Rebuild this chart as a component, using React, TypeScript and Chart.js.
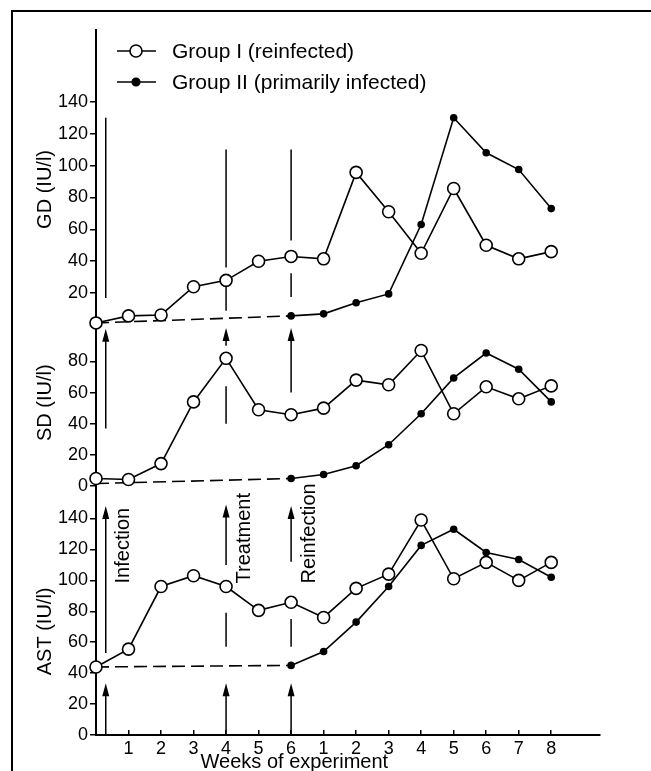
import React, { useEffect, useRef } from 'react';
import { Chart, registerables } from 'chart.js';

Chart.register(...registerables);

// ---- data ----
const weekIndex = [0, 1, 2, 3, 4, 5, 6, 7, 8, 9, 10, 11, 12, 13, 14];
const weekTickValues = [1, 2, 3, 4, 5, 6, 7, 8, 9, 10, 11, 12, 13, 14];
const weekTickLabels = ['1', '2', '3', '4', '5', '6', '1', '2', '3', '4', '5', '6', '7', '8'];

const gdGroupI = [1.3, 5.7, 6.3, 24, 28, 40, 43, 41.5, 95.7, 71, 45, 85.6, 50, 41.5, 46];
const gdGroupII = [1.3, null, null, null, null, null, 5.7, 7, 14, 19.5, 63, 130, 108, 97.5, 73];
const sdGroupI = [4.8, 4.2, 14.4, 54, 82, 49, 45.8, 50, 68, 65, 87, 46.4, 63.7, 56, 64.3];
const sdGroupII = [1.6, null, null, null, null, null, 4.8, 7.4, 13, 26.5, 46.4, 69.4, 85.4, 75, 54];
const astGroupI = [44, 55.5, 96, 103, 96, 80.6, 85.8, 76, 94.8, 104, 139, 101, 111.6, 100, 111.6];
const astGroupII = [44, null, null, null, null, null, 45, 54, 73, 96, 122.6, 133, 118, 113.5, 102];

const gdTicks = [20, 40, 60, 80, 100, 120, 140];
const sdTicks = [0, 20, 40, 60, 80];
const astTicks = [0, 20, 40, 60, 80, 100, 120, 140];

const legendLabels = ['Group I (reinfected)', 'Group II (primarily infected)'];
const axisTitles = ['GD (IU/l)', 'SD (IU/l)', 'AST (IU/l)'];
const axisTitleAnchors = [85, 53.5, 67];
const xTitle = 'Weeks of experiment';
const xTitleAnchor = 6.1;

const eventWeeks = [0.3, 4, 6];
const eventNames = ['Infection', 'Treatment', 'Reinfection'];
const eventNameAnchor = 98; // AST value where labels start
// per event: [fromValue, toValue, arrowHead]
const gdEventMarks = [[[17, 130, 0]], [[36, 110, 0], [9, 25, 0]], [[53, 110, 0], [17.5, 32.5, 0]]];
const sdEventMarks = [[[37, 101, 1]], [[90, 101.5, 1], [40, 64, 0]], [[60, 101.5, 1]]];
const astEventMarks = [
  [[53, 148, 1], [0, 33.5, 1]],
  [[110, 149, 1], [57, 79, 0], [0, 33.5, 1]],
  [[112, 148, 1], [57, 75, 0], [0, 33.5, 1]],
];

const FONT = '"Liberation Sans", Arial, Helvetica, sans-serif';

const toPoints = (vals: (number | null)[]) => weekIndex.map((w, i) => ({ x: w, y: vals[i] }));

const decorPlugin = {
  id: 'decor',
  beforeDatasetsDraw(chart: any) {
    const ctx = chart.ctx;
    const xs = chart.scales.x;
    ctx.save();
    ctx.strokeStyle = '#000';
    ctx.fillStyle = '#000';
    ctx.lineWidth = 1.5;
    const panels: [string, number[][][]][] = [
      ['gd', gdEventMarks],
      ['sd', sdEventMarks],
      ['ast', astEventMarks],
    ];
    for (const [id, marks] of panels) {
      const ys = chart.scales[id];
      marks.forEach((segs, e) => {
        const px = xs.getPixelForValue(eventWeeks[e]);
        for (const [a, b, head] of segs) {
          const y0 = ys.getPixelForValue(a);
          const y1 = ys.getPixelForValue(b);
          ctx.beginPath();
          ctx.moveTo(px, y0);
          ctx.lineTo(px, head ? y1 + 10 : y1);
          ctx.stroke();
          if (head) {
            ctx.beginPath();
            ctx.moveTo(px, y1);
            ctx.lineTo(px - 3.5, y1 + 13);
            ctx.lineTo(px + 3.5, y1 + 13);
            ctx.closePath();
            ctx.fill();
          }
        }
      });
    }
    // event names
    const ast = chart.scales.ast;
    ctx.font = `20px ${FONT}`;
    ctx.textAlign = 'left';
    ctx.textBaseline = 'middle';
    eventNames.forEach((name, e) => {
      const px = xs.getPixelForValue(eventWeeks[e]) + 18;
      const py = ast.getPixelForValue(eventNameAnchor);
      ctx.save();
      ctx.translate(px, py);
      ctx.rotate(-Math.PI / 2);
      ctx.fillText(name, 0, 0);
      ctx.restore();
    });
    ctx.restore();
  },
  afterDraw(chart: any) {
    const ctx = chart.ctx;
    ctx.save();
    ctx.strokeStyle = '#000';
    ctx.fillStyle = '#000';
    // frame
    ctx.lineWidth = 2;
    ctx.beginPath();
    ctx.moveTo(12, 771);
    ctx.lineTo(12, 11);
    ctx.lineTo(651, 11);
    ctx.stroke();

    // legend
    const rows = [51, 82];
    const ds = chart.data.datasets;
    [ds[0], ds[3]].forEach((d: any, i: number) => {
      const y = rows[i];
      ctx.lineWidth = 1.6;
      ctx.beginPath();
      ctx.moveTo(117, y);
      ctx.lineTo(156, y);
      ctx.stroke();
      ctx.beginPath();
      const r = i === 0 ? 6 : 3.8;
      ctx.arc(136, y, r, 0, Math.PI * 2);
      ctx.fillStyle = d.pointBackgroundColor;
      ctx.fill();
      ctx.stroke();
      ctx.fillStyle = '#000';
      ctx.font = `21px ${FONT}`;
      ctx.textAlign = 'left';
      ctx.textBaseline = 'middle';
      ctx.fillText(legendLabels[i], 172, y + 1);
    });

    // y titles
    ctx.font = `20px ${FONT}`;
    ctx.textAlign = 'center';
    ctx.textBaseline = 'middle';
    ['gd', 'sd', 'ast'].forEach((id, i) => {
      const ys = chart.scales[id];
      const py = ys.getPixelForValue(axisTitleAnchors[i]);
      ctx.save();
      ctx.translate(45, py);
      ctx.rotate(-Math.PI / 2);
      ctx.fillText(axisTitles[i], 0, 0);
      ctx.restore();
    });

    // x title
    ctx.textAlign = 'center';
    ctx.textBaseline = 'alphabetic';
    ctx.fillText(xTitle, chart.scales.x.getPixelForValue(xTitleAnchor), 768);
    ctx.restore();
  },
};

const tickFont = { family: FONT, size: 18 };

const yCommon = (ticks: number[], max: number, weight: number) => ({
  type: 'linear' as const,
  position: 'left' as const,
  stack: 'panels',
  stackWeight: weight,
  min: 0,
  max,
  grid: { drawOnChartArea: false, tickLength: 6, color: '#000', lineWidth: 1.5 },
  border: { color: '#000', width: 2 },
  ticks: { padding: 2, font: tickFont, color: '#000', autoSkip: false },
  afterBuildTicks: (s: any) => {
    s.ticks = ticks.map((v) => ({ value: v }));
  },
  afterFit: (s: any) => {
    s.width = 40;
  },
});

export default function App() {
  const ref = useRef<HTMLCanvasElement>(null);
  useEffect(() => {
    if (!ref.current) return;
    const groupI = (vals: (number | null)[], axis: string) => ({
      data: toPoints(vals),
      yAxisID: axis,
      borderColor: '#000',
      borderWidth: 1.6,
      pointRadius: 6,
      pointBackgroundColor: '#fff',
      pointBorderColor: '#000',
      pointBorderWidth: 1.6,
      clip: false,
    });
    const groupII = (vals: (number | null)[], axis: string) => ({
      data: toPoints(vals),
      yAxisID: axis,
      borderColor: '#000',
      borderWidth: 1.6,
      pointRadius: (c: any) => (c.dataIndex === 0 ? 0 : 3.8),
      pointBackgroundColor: '#000',
      pointBorderColor: '#000',
      pointBorderWidth: 0,
      spanGaps: true,
      segment: {
        // dashed where the segment bridges weeks without measurements
        borderDash: (c: any) => (vals[c.p0DataIndex] == null ? [13, 6] : undefined),
      },
      clip: false,
    });
    const chart = new Chart(ref.current, {
      type: 'line',
      data: {
        datasets: [
          groupI(gdGroupI, 'gd'),
          groupI(sdGroupI, 'sd'),
          groupI(astGroupI, 'ast'),
          groupII(gdGroupII, 'gd'),
          groupII(sdGroupII, 'sd'),
          groupII(astGroupII, 'ast'),
        ],
      },
      options: {
        responsive: false,
        animation: false,
        events: [],
        layout: { padding: { left: 56, top: 30, right: 51, bottom: 0 } },
        plugins: { legend: { display: false }, tooltip: { enabled: false } },
        scales: {
          x: {
            type: 'linear',
            position: 'bottom',
            min: 0,
            max: 15.5,
            grid: { drawOnChartArea: false, tickLength: -5, color: '#000', lineWidth: 1.5 },
            border: { color: '#000', width: 2 },
            ticks: {
              padding: 8,
              font: tickFont,
              color: '#000',
              autoSkip: false,
              maxRotation: 0,
              callback: (v: any) => weekTickLabels[weekTickValues.indexOf(v)] ?? '',
            },
            afterBuildTicks: (s: any) => {
              s.ticks = weekTickValues.map((v) => ({ value: v }));
            },
            afterFit: (s: any) => {
              s.height = 36;
            },
          },
          ast: yCommon(astTicks, 161, 249),
          sd: yCommon(sdTicks, 103.4, 161),
          gd: yCommon(gdTicks, 185, 295),
        },
      } as any,
      plugins: [decorPlugin],
    });
    return () => chart.destroy();
  }, []);
  return (
    <div style={{ position: 'absolute', left: 0, top: 0, width: 651, height: 771, background: '#fff' }}>
      <canvas ref={ref} width={651} height={771} style={{ display: 'block' }} />
    </div>
  );
}
